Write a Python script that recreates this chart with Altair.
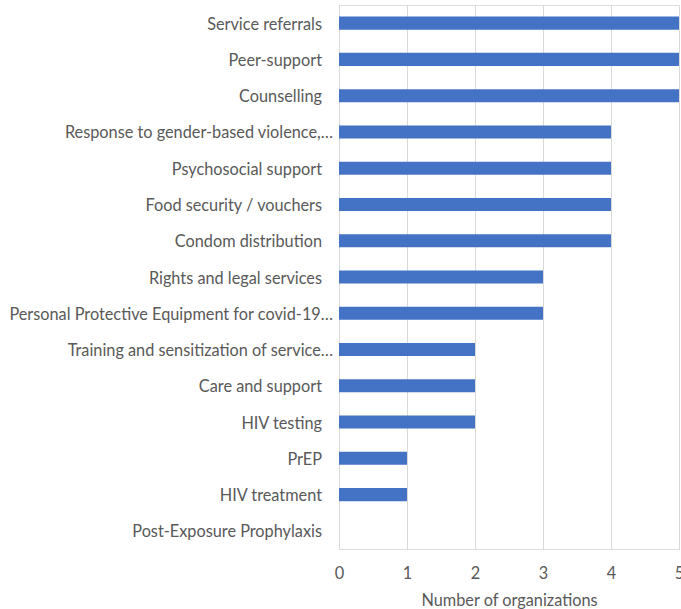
import altair as alt
import pandas as pd

# Services offered, ordered top to bottom as listed
services = [
    "Service referrals",
    "Peer-support",
    "Counselling",
    "Response to gender-based violence,…",
    "Psychosocial support",
    "Food security / vouchers",
    "Condom distribution",
    "Rights and legal services",
    "Personal Protective Equipment for covid-19…",
    "Training and sensitization of service…",
    "Care and support",
    "HIV testing",
    "PrEP",
    "HIV treatment",
    "Post-Exposure Prophylaxis",
]
organizations = [5, 5, 5, 4, 4, 4, 4, 3, 3, 2, 2, 2, 1, 1, 0]

df = pd.DataFrame({"service": services, "count": organizations})

TEXT = "#595959"
GRID = "#D9D9D9"
FONT = "Lato"
SIZE = 16.3

y_enc = alt.Y(
    "service:N",
    sort=services,
    scale=alt.Scale(paddingInner=0.64, paddingOuter=0.32),
    axis=None,
)

bars = alt.Chart(df).mark_bar(color="#4472C4").encode(
    x=alt.X(
        "count:Q",
        scale=alt.Scale(domain=[0, 5], nice=False),
        axis=alt.Axis(
            title="Number of organizations",
            values=[0, 1, 2, 3, 4, 5],
            format="d",
            grid=True,
            gridColor=GRID,
            gridWidth=1,
            domain=False,
            ticks=False,
            labelFlush=False,
            labelPadding=16,
            labelFontSize=SIZE,
            labelColor=TEXT,
            labelFont=FONT,
            titleFont=FONT,
            titleFontSize=SIZE,
            titleFontWeight="normal",
            titleColor=TEXT,
            titlePadding=11,
        ),
    ),
    y=y_enc,
)

# Category labels: truncated names sit closer to the axis than full ones
is_cut = "slice(datum.service, -1) == '…'"

def label_layer(test, dx):
    return (
        alt.Chart(df)
        .transform_filter(test)
        .mark_text(align="right", baseline="middle", dx=dx, dy=1.5,
                   font=FONT, fontSize=SIZE, color=TEXT)
        .encode(x=alt.value(0), y=y_enc, text="service:N")
    )

labels_cut = label_layer(is_cut, -6)
labels_full = label_layer("!(" + is_cut + ")", -17)

chart = (
    alt.layer(bars, labels_cut, labels_full)
    .properties(
        width=340,
        height=544,
        autosize=alt.AutoSizeParams(type="none"),
        padding={"left": 339, "top": 5, "right": 2, "bottom": 60},
    )
    .configure_view(stroke=None)
    .configure(background="white")
)

chart.save("out.html", embed_options={"renderer": "svg", "actions": False})
